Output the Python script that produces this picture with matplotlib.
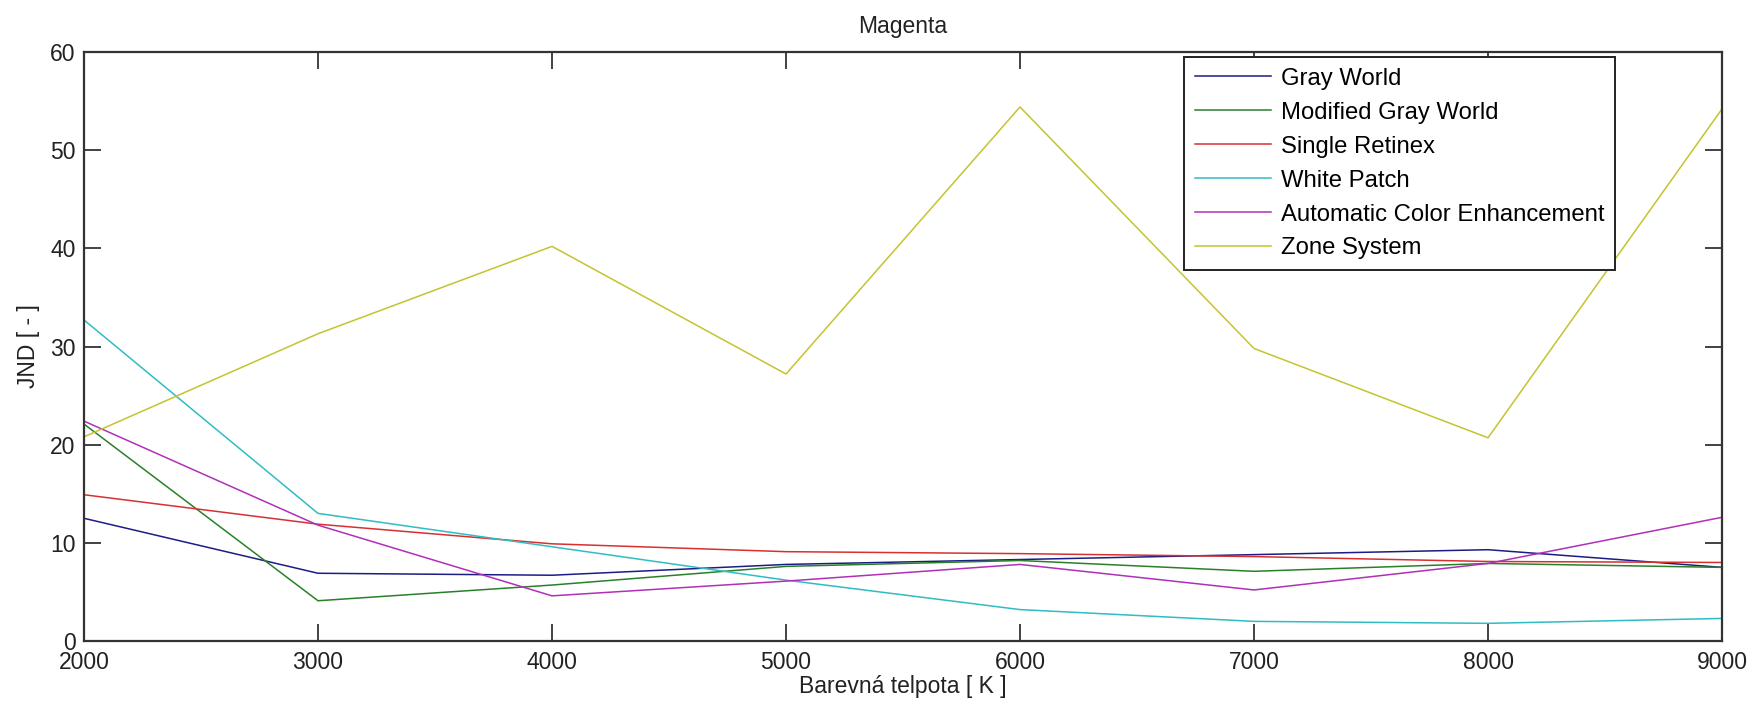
import matplotlib
matplotlib.use('Agg')
import matplotlib.pyplot as plt

temps = [2000, 3000, 4000, 5000, 6000, 7000, 8000, 9000]

gray_world = [12.5, 6.9, 6.7, 7.8, 8.3, 8.8, 9.3, 7.5]
modified_gray_world = [22.1, 4.1, 5.7, 7.6, 8.2, 7.1, 7.9, 7.5]
single_retinex = [14.9, 11.9, 9.9, 9.1, 8.9, 8.6, 8.1, 8.0]
white_patch = [32.7, 13.0, 9.6, 6.2, 3.2, 2.0, 1.8, 2.3]
ace = [22.4, 11.8, 4.6, 6.1, 7.8, 5.2, 7.9, 12.6]
zone_system = [20.8, 31.3, 40.2, 27.2, 54.4, 29.8, 20.7, 54.2]

labels = ['Gray World', 'Modified Gray World', 'Single Retinex',
          'White Patch', 'Automatic Color Enhancement', 'Zone System']
colors = ['#1c1c84', '#2a802a', '#d83030', '#30bcc4', '#b030b8', '#c4c430']

plt.rcParams['font.family'] = ['Liberation Sans', 'DejaVu Sans']

fig = plt.figure(figsize=(17.5, 7.09), dpi=100)
ax = fig.add_axes([84/1750, 1-641/709, (1722-84)/1750, (641-52)/709])

series = [gray_world, modified_gray_world, single_retinex, white_patch, ace, zone_system]
for vals, lab, col in zip(series, labels, colors):
    ax.plot(temps, vals, color=col, lw=1.1, label=lab)

ax.set_xlim(2000, 9000)
ax.set_ylim(0, 60)
ax.set_xticks(temps)
ax.set_yticks(range(0, 61, 10))
ax.tick_params(direction='in', length=12, width=1.2, top=True, right=True,
               labelsize=16.5, colors='#222222')
ax.tick_params(axis='x', pad=7)
ax.tick_params(axis='y', pad=6)
for s in ax.spines.values():
    s.set_linewidth(1.6)
    s.set_color('#333333')

ax.set_title('Magenta', fontsize=16.5, pad=14, color='#222222')
ax.set_xlabel('Barevná telpota [ K ]', fontsize=16.5, labelpad=1, color='#222222')
ax.set_ylabel('JND [ - ]', fontsize=16.5, labelpad=7, color='#222222')

leg = ax.legend(loc='upper left', bbox_to_anchor=(0.6716, 0.9915), fontsize=17.2,
                handlelength=3.2, labelspacing=0.5, borderpad=0.45,
                borderaxespad=0, fancybox=False, framealpha=1, handletextpad=0.4)
leg.get_frame().set_edgecolor('#222222')
leg.get_frame().set_linewidth(1.4)

fig.savefig('out.png', dpi=100)
